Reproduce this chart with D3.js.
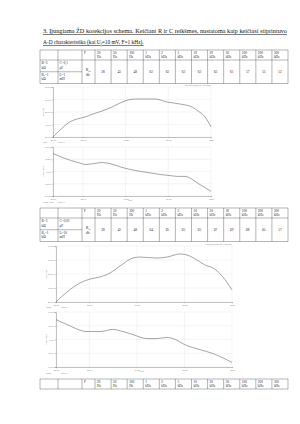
<!DOCTYPE html>
<html>
<head>
<meta charset="utf-8">
<script src="https://cdn.jsdelivr.net/npm/d3@7/dist/d3.min.js"></script>
<style>
  body { margin: 0; background: #fff; }
  svg { display: block; }
</style>
</head>
<body>
<svg id="page" width="300" height="424"></svg>
<script>
// table data
const freqNum  = ["20", "50", "100", "1", "2", "5", "10", "20", "50", "100", "200", "500"];
const freqUnit = ["Hz", "Hz", "Hz", "kHz", "kHz", "kHz", "kHz", "kHz", "kHz", "kHz", "kHz", "kHz"];
const gain1 = [38, 43, 48, 62, 63, 63, 63, 63, 61, 57, 55, 52];
const gain2 = [38, 43, 48, 64, 65, 65, 65, 67, 69, 68, 65, 57];
const params1 = [["R=3", "kΩ"], ["C=0,1", "μF"], ["R₁=1", "kΩ"], ["L=1", "mH"]];
const params2 = [["R=3", "kΩ"], ["C=0,01", "μF"], ["R₁=1", "kΩ"], ["L=10", "mH"]];

// chart axes
const xTicks = [20, 100, 1000, 10000, 100000];
const xTickLabels = ["20.00", "100.0", "1.00k", "10.0k", "100k"];
const gainTicks = [30, 40, 50, 60, 70];
const phaseTicks = [-90, -45, 0, 45, 90];

// curves (Hz, dB / deg)
const amp1F = [20, 33, 45, 73, 112, 173, 281, 482, 742, 1140, 1660, 4890, 9350, 18800, 36000, 49800, 72600, 100000];
const amp1G = [30, 37.2, 41.2, 44.4, 46, 48.4, 50.8, 54, 57.2, 59.6, 60.4, 60.4, 58, 56.4, 54, 50.8, 46, 38];
const ph1F = [20, 38, 77, 119, 182, 281, 433, 826, 1660, 3360, 6410, 11000, 16900, 24700, 34100, 49800, 72600, 100000];
const ph1P = [66, 48, 33, 26, 29, 33, 29, 15, 4, -4, -11, -15, -18, -18, -26, -44, -59, -73];
const amp2F = [20, 34, 64, 104, 168, 272, 442, 830, 1160, 2650, 4300, 8050, 11300, 18300, 27000, 39700, 64400, 100000];
const amp2G = [30, 37.1, 43.6, 46.4, 47.9, 50.7, 55.7, 61.4, 62.1, 61.4, 62.1, 64.3, 63.6, 60, 56.4, 54.3, 47.9, 38.6];
const ph2F = [20, 34, 90, 168, 315, 511, 830, 1630, 2650, 4300, 5740, 11300, 21200, 39700, 100000];
const ph2P = [65, 49, 26, 26, 33, 26, 16, 3, 3, 7, 3, -20, -33, -46, -75];

const svg = d3.select("#page");
svg.append("rect").attr("width", 300).attr("height", 424).attr("fill", "#fff");

const serif = "'Liberation Serif', 'Times New Roman', serif";
const sans = "'Liberation Sans', Arial, sans-serif";

// heading
const head = svg.append("g").attr("font-family", serif).attr("font-size", 5.4).attr("fill", "#111")
    .attr("text-decoration", "underline");
head.append("text").attr("x", 43).attr("y", 33)
    .attr("textLength", 244).attr("lengthAdjust", "spacingAndGlyphs")
    .text("3. Įjungiama ŽD korekcijos schema. Keičiant R ir C reikšmes, nustatoma kaip keičiasi stiprintuvo");
const l2 = head.append("text").attr("x", 43).attr("y", 44);
l2.append("tspan").text("A-D charakteristika (kai U");
l2.append("tspan").attr("font-size", 3.6).attr("dy", 1).text("i");
l2.append("tspan").attr("dy", -1).text("=10 mV, F=1 kHz).");

const tableLeft = 40;
const colEdges = [40, 58, 82, 95];
const fx = d3.scaleBand().domain(d3.range(12)).range([95, 288]);

function drawTable(top, params, values) {
    const g = svg.append("g").attr("font-family", serif).attr("font-size", 3.4).attr("fill", "#222");
    const headH = 10;
    const bodyH = values ? 23.5 : 0;
    const bottom = top + headH + bodyH;
    const line = (x1, y1, x2, y2) => g.append("line")
        .attr("x1", x1).attr("y1", y1).attr("x2", x2).attr("y2", y2)
        .attr("stroke", "#444").attr("stroke-width", 0.4);

    line(tableLeft, top, 288, top);
    line(tableLeft, top + headH, 288, top + headH);
    if (values) {
        line(tableLeft, bottom, 288, bottom);
        line(tableLeft, top + headH + bodyH / 2, 82, top + headH + bodyH / 2);
    }
    colEdges.forEach(x => line(x, top, x, bottom));
    fx.domain().forEach(i => line(fx(i) + fx.bandwidth(), top, fx(i) + fx.bandwidth(), bottom));

    g.append("text").attr("x", 84).attr("y", top + 4).text("F");
    g.selectAll(".fn").data(freqNum).join("text")
        .attr("x", (d, i) => fx(i) + 2).attr("y", top + 4).text(d => d);
    g.selectAll(".fu").data(freqUnit).join("text")
        .attr("x", (d, i) => fx(i) + 2).attr("y", top + 8.3).text(d => d);

    if (!values) return;
    const half = bodyH / 2;
    params.forEach((p, i) => {
        const x = i % 2 === 0 ? 41.5 : 59.5;
        const y = top + headH + Math.floor(i / 2) * half;
        g.append("text").attr("x", x).attr("y", y + 4.2).text(p[0]);
        g.append("text").attr("x", x).attr("y", y + 8.6).text(p[1]);
    });
    const ky = top + headH + bodyH / 2;
    const k = g.append("text").attr("x", 86).attr("y", ky - 0.5);
    k.append("tspan").text("K");
    k.append("tspan").attr("font-size", 2.5).attr("dy", 0.8).text("u");
    k.append("tspan").attr("dy", -0.8).text(",");
    g.append("text").attr("x", 86).attr("y", ky + 4).text("db");
    g.selectAll(".v").data(values).join("text")
        .attr("x", (d, i) => fx(i) + fx.bandwidth() / 2).attr("y", ky + 1.5)
        .attr("text-anchor", "middle").text(d => d);
}

function drawChart(box, xs, ys, yTicks, opts) {
    const g = svg.append("g").attr("font-family", sans);
    const x = d3.scaleLog().domain([20, 100000]).range([box.left, box.right]);
    const y = d3.scaleLinear().domain(d3.extent(yTicks)).range([box.bottom, box.top]);

    // grid
    g.append("g").selectAll("line").data(xTicks).join("line")
        .attr("x1", d => x(d)).attr("x2", d => x(d))
        .attr("y1", box.top).attr("y2", box.bottom)
        .attr("stroke", "#e2e2e2").attr("stroke-width", 0.4);
    g.append("g").selectAll("line").data(yTicks).join("line")
        .attr("x1", box.left).attr("x2", box.right)
        .attr("y1", d => y(d)).attr("y2", d => y(d))
        .attr("stroke", "#e2e2e2").attr("stroke-width", 0.4);

    // axes
    const ax = g.append("g").attr("transform", `translate(0,${box.bottom})`)
        .call(d3.axisBottom(x).tickValues(xTicks).tickFormat((d, i) => xTickLabels[i]).tickSize(1.2).tickPadding(0.8));
    const ay = g.append("g").attr("transform", `translate(${box.left},0)`)
        .call(d3.axisLeft(y).tickValues(yTicks).tickFormat(d => d.toFixed(2)).tickSize(1.6).tickPadding(1));
    [ax, ay].forEach(a => {
        a.select(".domain").attr("stroke", "#8a8a8a").attr("stroke-width", 0.5);
        a.selectAll(".tick line").attr("stroke", "#8a8a8a").attr("stroke-width", 0.4);
        a.selectAll(".tick text").attr("font-size", 2.2).attr("fill", "#777").attr("font-family", sans);
    });

    g.append("path")
        .datum(xs.map((f, i) => [f, ys[i]]))
        .attr("fill", "none").attr("stroke", "#5a5a5a").attr("stroke-width", 0.55)
        .attr("d", d3.line().x(d => x(d[0])).y(d => y(d[1])).curve(d3.curveMonotoneX));

    const small = (tx, ty, s, anchor, rot) => g.append("text")
        .attr("transform", `translate(${tx},${ty})${rot ? " rotate(-90)" : ""}`)
        .attr("text-anchor", anchor || "start")
        .attr("font-size", 2).attr("fill", "#8a8a8a").text(s);
    small(box.left - 9, (box.top + box.bottom) / 2, opts.ylabel, "middle", true);
    if (opts.title) small(box.right, box.top - 1, opts.title, "end");
    if (opts.xlabel) small((box.left + box.right) / 2 - 2, box.bottom + 5, opts.xlabel, "middle");
    if (opts.note) {
        small(box.left - 10, box.bottom + opts.noteDy, opts.note[0]);
        small(box.left + 5, box.bottom + opts.noteDy, opts.note[1]);
    }
}

drawTable(50, params1, gain1);
drawChart({left: 53, right: 211, top: 87, bottom: 137}, amp1F, amp1G, gainTicks,
    {ylabel: "Gain (dB)", title: "Amplitude-frequency response", note: ["Gain", "Trace 1"], noteDy: 6});
drawChart({left: 53, right: 211, top: 147, bottom: 196}, ph1F, ph1P, phaseTicks,
    {ylabel: "Phase (deg)", xlabel: "Freq", note: ["Phase (deg)", "Trace 1"], noteDy: 6.5});

drawTable(208, params2, gain2);
drawChart({left: 56, right: 232, top: 246, bottom: 302}, amp2F, amp2G, gainTicks,
    {ylabel: "Gain (dB)", title: "Amplitude-frequency response", note: ["Phase", "Trace 1"], noteDy: 6});
drawChart({left: 56, right: 232, top: 312, bottom: 367}, ph2F, ph2P, phaseTicks,
    {ylabel: "Phase (deg)", xlabel: "Freq", note: ["Phase", "Trace 1"], noteDy: 7});

drawTable(379, null, null);
</script>
</body>
</html>
